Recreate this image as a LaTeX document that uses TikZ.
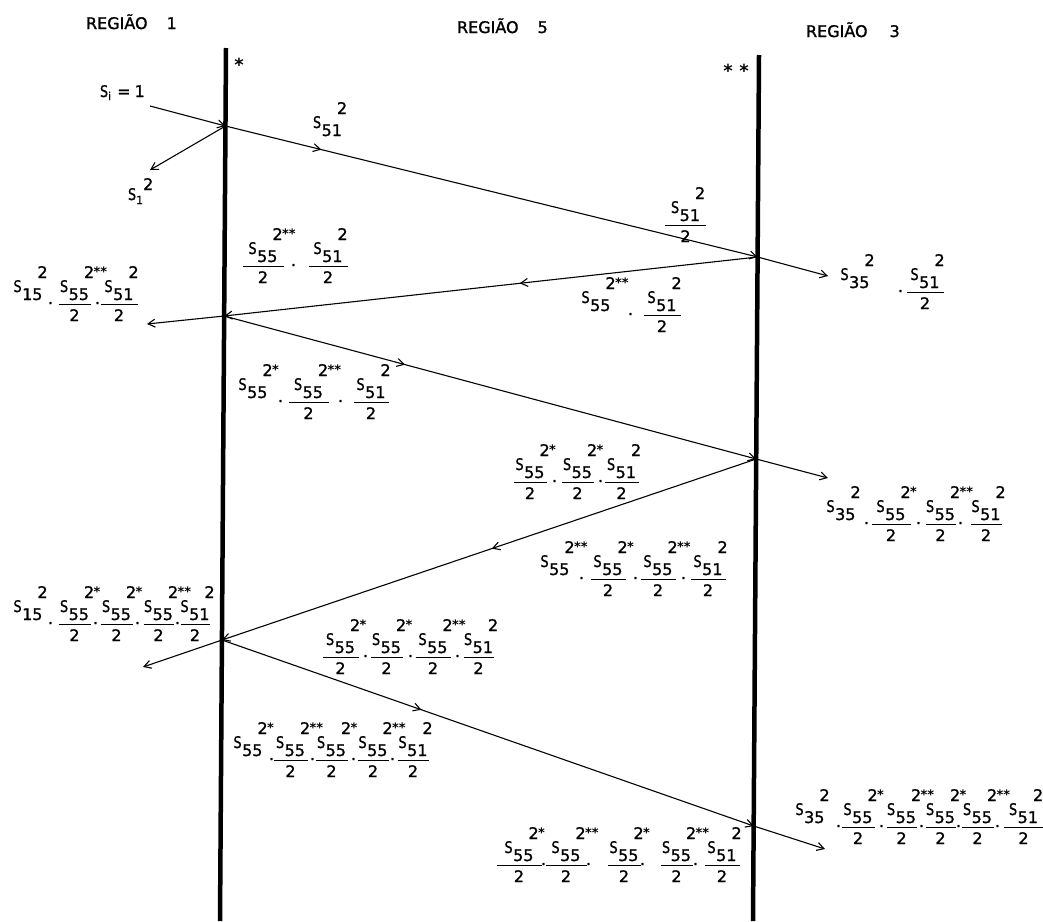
\documentclass[tikz,border=0pt]{standalone}
\usepackage{fontspec}
\setmainfont{DejaVu Sans}[BoldFont=DejaVu Sans, BoldFeatures={FakeBold=1.2}]
\newfontfamily\starfont{DejaVu Sans Bold}
\usetikzlibrary{arrows.meta,decorations.markings}
\newcommand\Sg{\scalebox{0.8}[1]{S}}
\newcommand\Stx[1]{{\fontsize{13}{13}\starfont #1}}
\newcommand\Tm[2]{\Sg\kern0.5pt\raisebox{-8pt}{#1}\kern-5pt\rlap{\raisebox{14pt}{2\kern-0.5pt\raisebox{2pt}{\Stx{#2}}}}\kern5pt}
\newcommand\Fr[3][34]{\setbox0=\hbox{\Tm{#2}{#3}}\vtop{\hbox to #1pt{\hss\copy0\hss}\kern3.5pt\hrule height 1pt width #1pt\kern4.5pt\hbox to #1pt{\hss2\hss}}}
\newcommand\At[2]{\rlap{\kern#1pt#2}}
\newcommand\Dd{\makebox[0pt]{\raisebox{-12pt}{.}}}
\tikzset{
  lab/.style={anchor=base west, inner sep=0pt, outer sep=0pt, font=\fontsize{16}{19}\selectfont\bfseries},
  hdr/.style={anchor=base west, inner sep=0pt, outer sep=0pt, font=\fontsize{16}{19}\selectfont\bfseries},
  mk/.style={anchor=base, inner sep=0pt, font=\fontsize{18}{18}\starfont},
  ray/.style={line width=1.1pt, -{Straight Barb[length=7pt,width=8pt]}},
  midarr/.style={postaction={decorate}, decoration={markings, mark=at position #1 with {\arrow{Straight Barb[length=7pt,width=8pt]}}}},
  wall/.style={line width=4.5pt}
}
\begin{document}
\begin{tikzpicture}[x=1pt,y=-1pt]
\useasboundingbox (0,0) rectangle (1043,921);
% headers
\node[hdr] (h1) at (86,29) {REGIÃO\hspace{19pt}1};
\node[hdr] (h5) at (457,33) {REGIÃO\hspace{19pt}5};
\node[hdr] (h3) at (806,37) {REGIÃO\hspace{22pt}3};
% walls
\draw[wall] (226,48) -- (220,921);
\draw[wall] (759,55) -- (753,921);
\node[mk] (st1) at (239,71) {*};
\node[mk] (st2a) at (728,77) {*};
\node[mk] (st2b) at (744,77) {*};
% junctions
\coordinate (L1) at (225.5,126);
\coordinate (L2) at (224.2,316);
\coordinate (L3) at (222,640);
\coordinate (R1) at (757.6,257);
\coordinate (R2) at (756.2,459);
\coordinate (R3) at (753.7,826);
\coordinate (src) at (150,106);
\coordinate (b1) at (150,170);
\coordinate (t1) at (828,276);
\coordinate (b2) at (147,324);
\coordinate (t2) at (828,478);
\coordinate (b3) at (143,667);
\coordinate (t3) at (825,849);
% rays
\draw[ray] (src) -- (L1);
\draw[ray] (L1) -- (b1);
\draw[ray, midarr=0.18] (L1) -- (R1);
\draw[ray] (R1) -- (t1);
\draw[ray, midarr=0.446] (R1) -- (L2);
\draw[ray] (L2) -- (b2);
\draw[ray, midarr=0.34] (L2) -- (R2);
\draw[ray] (R2) -- (t2);
\draw[ray, midarr=0.495] (R2) -- (L3);
\draw[ray] (L3) -- (b3);
\draw[ray, midarr=0.375] (L3) -- (R3);
\draw[ray] (R3) -- (t3);
% labels
\node[lab] (la1) at (100,97) {\Sg\raisebox{-3pt}{\fontsize{11}{11}\selectfont i}\hspace{6pt}=\hspace{4pt}1};
\node[lab] (la2) at (128,200) {\Sg\raisebox{-4pt}{\fontsize{11}{11}\selectfont 1}\raisebox{10pt}{2}};
\node[lab] (la3) at (313,128) {\Tm{51}{}};
\node[lab] (la4) at (665,213) {\Fr[41]{51}{}};
\node[lab] (la5) at (840,280) {\At{0}{\Tm{35}{}}\At{60}{\Dd}\At{66}{\Fr[37]{51}{}}};
\node[lab] (la6) at (581,303) {\At{0}{\Tm{55}{**}}\At{49}{\Dd}\At{62}{\Fr[37]{51}{}}};
\node[lab] (la7) at (242,254) {\At{0}{\Fr[41]{55}{**}}\At{51}{\Dd}\At{66}{\Fr[39]{51}{}}};
\node[lab] (la8) at (13,292) {\At{0}{\Tm{15}{}}\At{37}{\Dd}\At{45}{\Fr[32]{55}{**}}\At{84}{\Dd}\At{87}{\Fr[37]{51}{}}};
\node[lab] (la9) at (238,390) {\At{0}{\Tm{55}{*}}\At{42}{\Dd}\At{50}{\Fr[40]{55}{**}}\At{102}{\Dd}\At{115}{\Fr[35]{51}{}}};
\node[lab] (la10) at (513,470) {\At{0}{\Fr[33]{55}{*}}\At{41}{\Dd}\At{48}{\Fr[32]{55}{*}}\At{87}{\Dd}\At{91}{\Fr[34]{51}{}}};
\node[lab] (la11) at (826,512) {\At{0}{\Tm{35}{}}\At{40}{\Dd}\At{45}{\Fr[39]{55}{*}}\At{92}{\Dd}\At{99}{\Fr[30]{55}{**}}\At{134}{\Dd}\At{144}{\Fr[31]{51}{}}};
\node[lab] (la12) at (540,567) {\At{0}{\Tm{55}{**}}\At{41}{\Dd}\At{50}{\Fr[35]{55}{*}}\At{95}{\Dd}\At{100}{\Fr[35]{55}{**}}\At{143}{\Dd}\At{150}{\Fr[35]{51}{}}};
\node[lab] (la13) at (13,612) {\At{0}{\Tm{15}{}}\At{37}{\Dd}\At{45}{\Fr[32]{55}{*}}\At{82}{\Dd}\At{87}{\Fr[32]{55}{*}}\At{124}{\Dd}\At{130}{\Fr[30]{55}{**}}\At{164}{\Dd}\At{167}{\Fr[29]{51}{}}};
\node[lab] (la14) at (322,645) {\At{0}{\Fr[36]{55}{*}}\At{43}{\Dd}\At{48}{\Fr[32]{55}{*}}\At{88}{\Dd}\At{93}{\Fr[35]{55}{**}}\At{135}{\Dd}\At{141}{\Fr[30]{51}{}}};
\node[lab] (la15) at (233,748) {\At{0}{\Tm{55}{*}}\At{38}{\Dd}\At{40}{\Fr[34]{55}{**}}\At{79}{\Dd}\At{82}{\Fr[32]{55}{*}}\At{120}{\Dd}\At{124}{\Fr[31]{55}{**}}\At{159}{\Dd}\At{164}{\Fr[31]{51}{}}};
\node[lab] (la16) at (496,853) {\At{0}{\Fr[45]{55}{*}}\At{47}{\Dd}\At{49}{\Fr[41]{55}{**}}\At{92}{\Dd}\At{111}{\Fr[33]{55}{*}}\At{146}{\Dd}\At{164}{\Fr[32]{55}{**}}\At{199}{\Dd}\At{208}{\Fr[35]{51}{}}};
\node[lab] (la17) at (795,815) {\At{0}{\Tm{35}{}}\At{43}{\Dd}\At{46}{\Fr[33]{55}{*}}\At{86}{\Dd}\At{91}{\Fr[30]{55}{**}}\At{126}{\Dd}\At{130}{\Fr[30]{55}{*}}\At{163}{\Dd}\At{166}{\Fr[32]{55}{**}}\At{202}{\Dd}\At{208}{\Fr[40]{51}{}}};
\end{tikzpicture}
\end{document}
